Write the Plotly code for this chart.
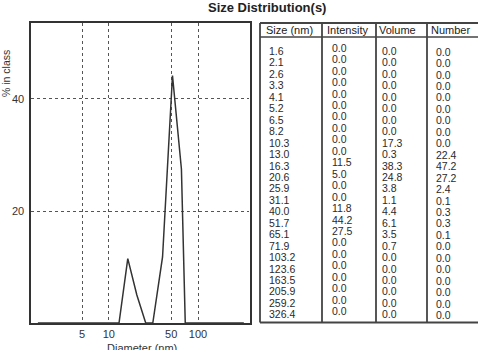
import plotly.graph_objects as go

# ---------------- data ----------------
size_nm = [1.6, 2.1, 2.6, 3.3, 4.1, 5.2, 6.5, 8.2, 10.3, 13.0, 16.3, 20.6, 25.9,
           31.1, 40.0, 51.7, 65.1, 71.9, 103.2, 123.6, 163.5, 205.9, 259.2, 326.4]
size_lbl = ["1.6", "2.1", "2.6", "3.3", "4.1", "5.2", "6.5", "8.2", "10.3", "13.0",
            "16.3", "20.6", "25.9", "31.1", "40.0", "51.7", "65.1", "71.9", "103.2",
            "123.6", "163.5", "205.9", "259.2", "326.4"]
intensity = [0.0, 0.0, 0.0, 0.0, 0.0, 0.0, 0.0, 0.0, 0.0, 0.0, 11.5, 5.0, 0.0,
             0.0, 11.8, 44.2, 27.5, 0.0, 0.0, 0.0, 0.0, 0.0, 0.0, 0.0]
volume = [0.0, 0.0, 0.0, 0.0, 0.0, 0.0, 0.0, 0.0, 17.3, 0.3, 38.3, 24.8, 3.8,
          1.1, 4.4, 6.1, 3.5, 0.7, 0.0, 0.0, 0.0, 0.0, 0.0, 0.0]
number = [0.0, 0.0, 0.0, 0.0, 0.0, 0.0, 0.0, 0.0, 0.0, 22.4, 47.2, 27.2, 2.4,
          0.1, 0.3, 0.3, 0.1, 0.0, 0.0, 0.0, 0.0, 0.0, 0.0, 0.0]
headers = ["Size (nm)", "Intensity", "Volume", "Number"]
x_ticks = [5, 10, 50, 100]
y_ticks = [20, 40]

W, H = 478, 350
FONT = "Liberation Sans, Arial, sans-serif"
INK = "#333333"

fig = go.Figure()

# main distribution curve (intensity)
fig.add_trace(go.Scatter(
    x=size_nm, y=intensity, mode="lines",
    line=dict(color=INK, width=1.5), hoverinfo="skip", showlegend=False,
    xaxis="x", yaxis="y"))

# invisible trace to activate table axes
fig.add_trace(go.Scatter(x=[0], y=[0], mode="markers", marker=dict(opacity=0),
                         showlegend=False, hoverinfo="skip", xaxis="x2", yaxis="y2"))

def px_x(p):
    return p / W

def px_y(p):
    return 1 - p / H

fig.update_layout(
    width=W, height=H, autosize=False,
    margin=dict(l=0, r=0, t=0, b=0),
    paper_bgcolor="white", plot_bgcolor="white",
    font=dict(family=FONT, color=INK, size=11),
    showlegend=False,
    xaxis=dict(
        type="log", domain=[px_x(31), px_x(249.5)], range=[0.127, 2.577],
        tickvals=x_ticks, ticktext=[str(v) for v in x_ticks], ticks="",
        showgrid=True, gridcolor="#555555", griddash="dot", gridwidth=1,
        showline=True, linecolor=INK, linewidth=1.5, mirror=True,
        zeroline=False, tickfont=dict(size=11, color=INK), fixedrange=True,
        anchor="y",
    ),
    yaxis=dict(
        domain=[px_y(323), px_y(23)], range=[0, 53.57],
        tickvals=y_ticks, showticklabels=False, ticks="",
        showgrid=True, gridcolor="#555555", griddash="dot", gridwidth=1,
        showline=True, linecolor=INK, linewidth=1.5, mirror=True,
        zeroline=False, fixedrange=True, anchor="x",
    ),
    xaxis2=dict(domain=[px_x(258), 1.0], range=[-2, 218], visible=False,
                fixedrange=True, anchor="y2"),
    yaxis2=dict(domain=[px_y(326), px_y(20)], range=[24.017, -2.707], visible=False,
                fixedrange=True, anchor="x2"),
)

annos = []
# y tick labels, positioned through the y axis scale
for v in y_ticks:
    annos.append(dict(text=str(v), xref="paper", yref="y", x=px_x(26), y=v,
                      xanchor="right", yanchor="middle", showarrow=False,
                      font=dict(size=11, color=INK)))

# titles
annos.append(dict(text="<b>Size Distribution(s)</b>", xref="paper", yref="paper",
                  x=px_x(267), y=px_y(7), xanchor="center", yanchor="middle",
                  showarrow=False, font=dict(size=13, color="#222222")))
annos.append(dict(text="% in class", xref="paper", yref="paper",
                  x=px_x(6), y=px_y(74), xanchor="center", yanchor="middle",
                  textangle=-90, showarrow=False, font=dict(size=10.5, color=INK)))
annos.append(dict(text="Diameter (nm)", xref="paper", yref="paper",
                  x=px_x(142), y=px_y(340), xanchor="center", yanchor="top",
                  showarrow=False, font=dict(size=11, color=INK)))

# table layout (x2 in px offsets from table left edge, y2 in row units)
col_sep = [62, 116, 167]
head_x = [4, 65, 117, 169]
val_x = [7, 70, 120, 174]
col_dy = [0.0, -0.28, 0.0, 0.06]
head_row = -1.834
head_line = -1.223
top_row = -2.445
bot_row = 23.71

for hx, h in zip(head_x, headers):
    annos.append(dict(text=h, xref="x2", yref="y2", x=hx, y=head_row,
                      xanchor="left", yanchor="middle", showarrow=False,
                      font=dict(size=11, color="#222222")))

cols = [size_lbl,
        [f"{v:.1f}" for v in intensity],
        [f"{v:.1f}" for v in volume],
        [f"{v:.1f}" for v in number]]
for ci, col in enumerate(cols):
    for ri, t in enumerate(col):
        annos.append(dict(text=t, xref="x2", yref="y2", x=val_x[ci], y=ri + col_dy[ci],
                          xanchor="left", yanchor="middle", showarrow=False,
                          font=dict(size=10.5, color="#2a2a2a")))

fig.update_layout(annotations=annos)

LC = "#444444"
shapes = []
shapes.append(dict(type="line", xref="x2", yref="y2", x0=0, x1=220, y0=top_row, y1=top_row,
                   line=dict(color=LC, width=1.8)))
shapes.append(dict(type="line", xref="x2", yref="y2", x0=0, x1=220, y0=bot_row, y1=bot_row,
                   line=dict(color=LC, width=1.8)))
shapes.append(dict(type="line", xref="x2", yref="y2", x0=0, x1=0, y0=top_row, y1=bot_row,
                   line=dict(color=LC, width=1.8)))
shapes.append(dict(type="line", xref="x2", yref="y2", x0=0, x1=220, y0=head_line, y1=head_line,
                   line=dict(color=LC, width=1.5)))
for cx in col_sep:
    shapes.append(dict(type="line", xref="x2", yref="y2", x0=cx, x1=cx, y0=top_row, y1=bot_row,
                       line=dict(color=LC, width=1.8)))
fig.update_layout(shapes=shapes)

fig.write_html("out.html")
